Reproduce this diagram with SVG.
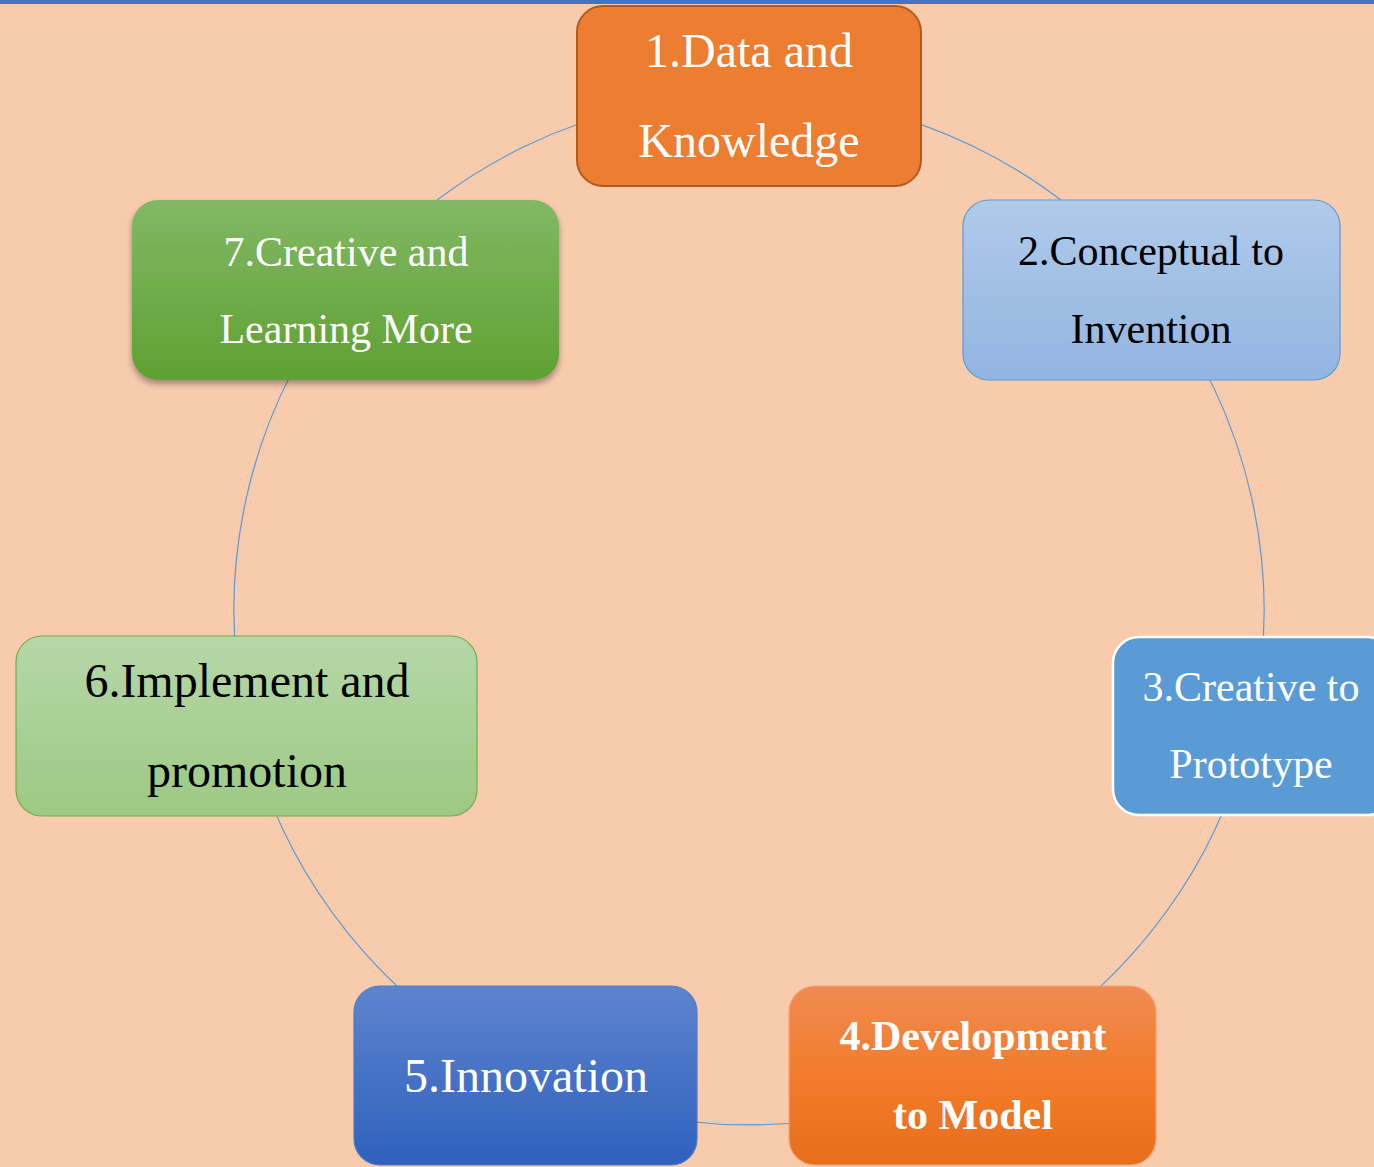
<svg xmlns="http://www.w3.org/2000/svg" width="1374" height="1167" viewBox="0 0 1374 1167">
<style>
.t{font-family:"Liberation Serif","Times New Roman",serif;text-anchor:middle}
.w{fill:#FFFFFF}
.k{fill:#000000}
.conn{fill:none;stroke:#5B9BD5;stroke-width:1.2}
</style>
<defs>
<linearGradient id="g7" x1="0" y1="0" x2="0" y2="1"><stop offset="0" stop-color="#82B864"/><stop offset="1" stop-color="#5FA133"/></linearGradient>
<linearGradient id="g2" x1="0" y1="0" x2="0" y2="1"><stop offset="0" stop-color="#B0CAEA"/><stop offset="1" stop-color="#92B5E1"/></linearGradient>
<linearGradient id="g6" x1="0" y1="0" x2="0" y2="1"><stop offset="0" stop-color="#B6D7A8"/><stop offset="1" stop-color="#9CC983"/></linearGradient>
<linearGradient id="g5" x1="0" y1="0" x2="0" y2="1"><stop offset="0" stop-color="#5E84CE"/><stop offset="1" stop-color="#2E61BD"/></linearGradient>
<linearGradient id="g4" x1="0" y1="0" x2="0" y2="1"><stop offset="0" stop-color="#F08A52"/><stop offset="0.5" stop-color="#F27C2B"/><stop offset="1" stop-color="#E76E1B"/></linearGradient>
<filter id="sh" x="-10%" y="-10%" width="120%" height="130%"><feDropShadow dx="0" dy="4" stdDeviation="3" flood-color="#000" flood-opacity="0.35"/></filter>
</defs>
<rect x="0" y="0" width="1374" height="1167" fill="#F8CBAD"/>
<rect x="0" y="0" width="1374" height="4" fill="#4472C4"/>
<g id="connectors">
<path class="conn" d="M749,95 A515,515 0 0 1 1152.5,290"/>
<path class="conn" d="M1152.5,290 A515,515 0 0 1 1250.8,726"/>
<path class="conn" d="M1250.8,726 A515,515 0 0 1 970,1075"/>
<path class="conn" d="M970,1075 A515,515 0 0 1 525,1073.7"/>
<path class="conn" d="M525,1073.7 A515,515 0 0 1 247.2,726"/>
<path class="conn" d="M247.2,726 A515,515 0 0 1 345.5,290"/>
<path class="conn" d="M345.5,290 A515,515 0 0 1 749,95"/>
</g>
<g id="node1">
<rect x="577" y="6" width="344" height="180" rx="26" fill="#ED7D31" stroke="#B05A20" stroke-width="2"/>
<text class="t w" x="749" y="67" font-size="48">1.Data and</text>
<text class="t w" x="749" y="157" font-size="48">Knowledge</text>
</g>
<g id="node2">
<rect x="963" y="200" width="377" height="180" rx="26" fill="url(#g2)" stroke="#5B9BD5" stroke-width="1.2"/>
<text class="t k" x="1151" y="265" font-size="42">2.Conceptual to</text>
<text class="t k" x="1151" y="343" font-size="42">Invention</text>
</g>
<g id="node3">
<rect x="1113" y="637" width="280" height="178" rx="26" fill="#5B9BD5" stroke="#FFFFFF" stroke-width="2.5"/>
<text class="t w" x="1251" y="701" font-size="42">3.Creative to</text>
<text class="t w" x="1251" y="778" font-size="42">Prototype</text>
</g>
<g id="node4">
<rect x="789" y="986" width="367" height="179" rx="26" fill="url(#g4)" stroke="#F4A473" stroke-width="1.2"/>
<text class="t w" x="973" y="1050" font-size="42" font-weight="bold">4.Development</text>
<text class="t w" x="973" y="1129" font-size="42" font-weight="bold">to Model</text>
</g>
<g id="node5">
<rect x="354" y="986" width="343" height="179" rx="26" fill="url(#g5)" stroke="#4F7BC9" stroke-width="1.2"/>
<text class="t w" x="526" y="1092" font-size="48">5.Innovation</text>
</g>
<g id="node6">
<rect x="16" y="636" width="461" height="180" rx="26" fill="url(#g6)" stroke="#70AD47" stroke-width="1.2"/>
<text class="t k" x="247" y="697" font-size="48">6.Implement and</text>
<text class="t k" x="247" y="787" font-size="48">promotion</text>
</g>
<g id="node7">
<rect x="132" y="200" width="427" height="180" rx="26" fill="url(#g7)" filter="url(#sh)"/>
<text class="t w" x="346" y="266" font-size="42">7.Creative and</text>
<text class="t w" x="346" y="343" font-size="42">Learning More</text>
</g>
</svg>
